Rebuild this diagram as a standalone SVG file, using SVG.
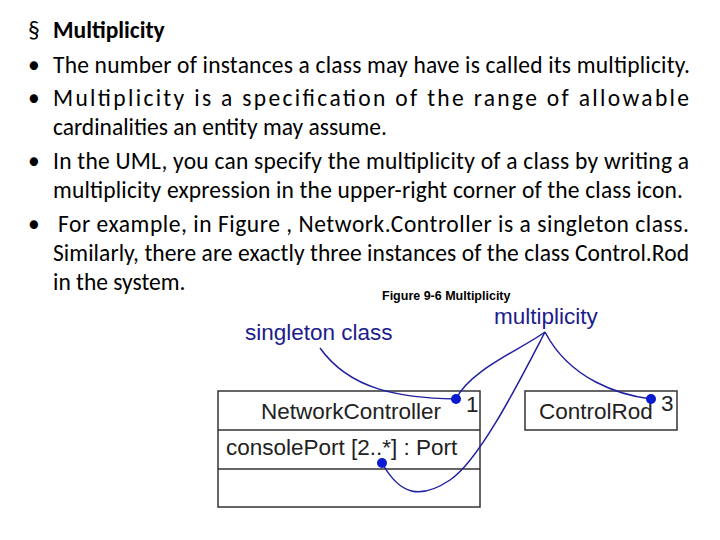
<svg xmlns="http://www.w3.org/2000/svg" width="720" height="540" viewBox="0 0 720 540">
<style>
.t{font-family:"Carlito","Liberation Sans",sans-serif;font-size:23.5px;fill:#000}
.b{font-family:"Liberation Sans",sans-serif;fill:#000}
.a{font-family:"Liberation Sans",sans-serif;font-size:22.5px;fill:#1c1c8c}
.box{fill:#fff;stroke:#333;stroke-width:1.5}
.c{fill:none;stroke:#2020a0;stroke-width:1.5}
.d{fill:#0a1ad0}
.u{font-family:"Liberation Sans",sans-serif;font-size:22.5px;fill:#222}
</style>
<rect width="720" height="540" fill="#fff"/>
<g id="text">
<text class="t" x="28" y="38">§</text><text class="t" x="53" y="38" font-weight="bold">Multiplicity</text>
<text class="t" x="28" y="73">•</text><text class="t" x="53" y="73" textLength="637" lengthAdjust="spacing">The number of instances a class may have is called its multiplicity.</text>
<text class="t" x="28" y="106">•</text><text class="t" x="53" y="106" textLength="636" lengthAdjust="spacing">Multiplicity is a specification of the range of allowable</text>
<text class="t" x="53" y="135">cardinalities an entity may assume.</text>
<text class="t" x="28" y="169">•</text><text class="t" x="53" y="169" textLength="636" lengthAdjust="spacing">In the UML, you can specify the multiplicity of a class by writing a</text>
<text class="t" x="53" y="198" textLength="630" lengthAdjust="spacing">multiplicity expression in the upper-right corner of the class icon.</text>
<text class="t" x="28" y="232">•</text><text class="t" x="58" y="232" textLength="631" lengthAdjust="spacing">For example, in Figure , Network.Controller is a singleton class.</text>
<text class="t" x="53" y="261" textLength="636" lengthAdjust="spacing">Similarly, there are exactly three instances of the class Control.Rod</text>
<text class="t" x="53" y="290">in the system.</text>
<text class="b" x="382" y="300" font-size="12.5" font-weight="bold" fill="#333">Figure 9-6 Multiplicity</text>
</g>
<g id="nc">
<rect class="box" x="218" y="391" width="262" height="116"/>
<line class="box" x1="218" y1="430" x2="480" y2="430"/>
<line class="box" x1="218" y1="469" x2="480" y2="469"/>
<text class="u" x="351" y="419" text-anchor="middle">NetworkController</text>
<text class="u" x="226" y="455">consolePort [2..*] : Port</text>
<text class="u" x="466" y="412">1</text>
</g>
<g id="cr">
<rect class="box" x="525" y="391" width="152" height="39"/>
<text class="u" x="539" y="419">ControlRod</text>
<text class="u" x="661" y="411">3</text>
</g>
<g id="labels">
<text class="a" x="245" y="340">singleton class</text>
<text class="a" x="494" y="324">multiplicity</text>
</g>
<g id="connectors">
<path class="c" d="M320,348 C350,390 400,398 456,399"/>
<path class="c" d="M545,332 C520,350 470,370 456,399"/>
<path class="c" d="M545,332 C570,380 620,395 651,399"/>
<path class="c" d="M545,332 C520,380 480,460 450,480 C420,500 400,495 382,463"/>
<circle class="d" cx="456" cy="399" r="5"/>
<circle class="d" cx="651" cy="399" r="5"/>
<circle class="d" cx="382" cy="463" r="5"/>
</g>
</svg>
